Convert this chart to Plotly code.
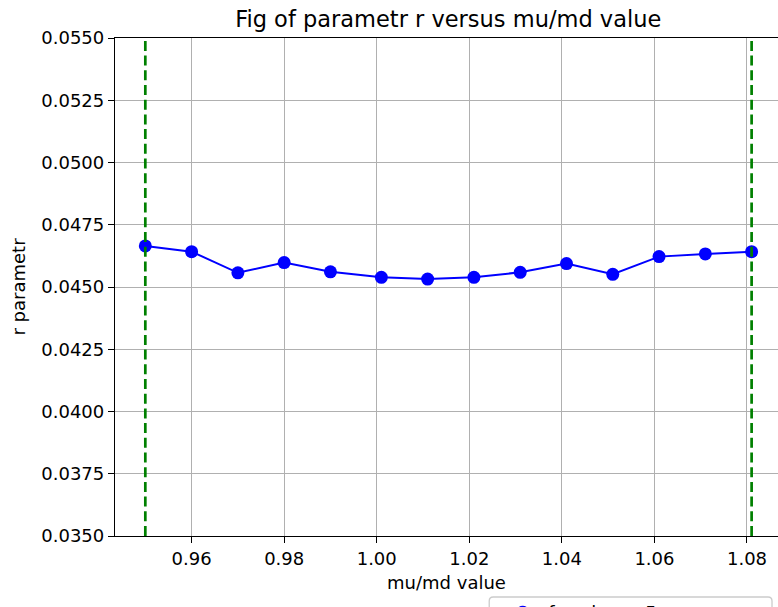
import plotly.graph_objects as go

# mu/md ratio and fitted r parameter (fs = 5)
mu_md = [0.950, 0.960, 0.970, 0.980, 0.990, 1.001, 1.011,
         1.021, 1.031, 1.041, 1.051, 1.061, 1.071, 1.081]
r_param = [0.04665, 0.04642, 0.04557, 0.04598, 0.04561, 0.04539, 0.04532,
           0.04539, 0.04559, 0.04594, 0.04551, 0.04622, 0.04633, 0.04642]

# bounds of the scanned interval
bounds = [0.950, 1.081]

x_ticks = [0.96, 0.98, 1.00, 1.02, 1.04, 1.06, 1.08]
y_ticks = [0.0350, 0.0375, 0.0400, 0.0425, 0.0450, 0.0475, 0.0500, 0.0525, 0.0550]

FONT = "DejaVu Sans"
W, H = 778, 607
ML, MT, MB = 114.5, 38, 71
PW, PH = W - ML, H - MT - MB


def px_x(p):
    """pixel column -> paper x"""
    return (p - ML) / PW


def px_y(p):
    """pixel row -> paper y"""
    return (H - MB - p) / PH


fig = go.Figure()
fig.add_trace(go.Scatter(
    x=mu_md, y=r_param, mode="lines+markers",
    name="fs value = 5",
    line=dict(color="#0000ff", width=2),
    marker=dict(color="#0000ff", size=13),
))

for b in bounds:
    fig.add_vline(x=b, line=dict(color="#008000", width=2.7, dash="10px,4.7px"), layer="above")

# legend frame with rounded corners
l, r, t, btm, rad = 489, 772, 597, 660, 4
frame = (f"M {px_x(l)},{px_y(btm)} L {px_x(l)},{px_y(t + rad)} "
         f"Q {px_x(l)},{px_y(t)} {px_x(l + rad)},{px_y(t)} "
         f"L {px_x(r - rad)},{px_y(t)} Q {px_x(r)},{px_y(t)} {px_x(r)},{px_y(t + rad)} "
         f"L {px_x(r)},{px_y(btm)} Z")
fig.add_shape(type="path", path=frame, xref="paper", yref="paper",
              line=dict(color="#cccccc", width=1.3), fillcolor="white", layer="above")

fig.update_layout(
    width=W, height=H,
    margin=dict(l=ML, r=0, t=MT, b=MB, autoexpand=False),
    plot_bgcolor="white", paper_bgcolor="white",
    font=dict(family=FONT, size=18, color="black"),
    title=dict(text="Fig of parametr r versus mu/md value",
               font=dict(family=FONT, size=22.5, color="black"),
               x=0.5026, xref="paper", xanchor="center",
               y=1 - 19 / H, yref="container", yanchor="middle"),
    xaxis=dict(
        range=[0.94345, 1.0867], tickvals=x_ticks, tickformat=".2f",
        showgrid=True, gridcolor="#b0b0b0", gridwidth=1.3,
        showline=True, linecolor="black", linewidth=1.3, mirror=True,
        ticks="outside", ticklen=6, tickwidth=1.3, tickcolor="black",
        zeroline=False,
        title=dict(text="mu/md value", standoff=8,
                   font=dict(family=FONT, size=18, color="black")),
    ),
    yaxis=dict(
        range=[0.0350, 0.0550], tickvals=y_ticks, tickformat=".4f",
        showgrid=True, gridcolor="#b0b0b0", gridwidth=1.3,
        showline=True, linecolor="black", linewidth=1.3, mirror=False,
        ticks="outside", ticklen=6, tickwidth=1.3, tickcolor="black",
        zeroline=False,
        title=dict(text="r parametr", standoff=10,
                   font=dict(family=FONT, size=18, color="black")),
    ),
    showlegend=True,
    legend=dict(
        x=px_x(497), xanchor="left",
        y=px_y(594), yanchor="top",
        itemwidth=41,
        bgcolor="rgba(0,0,0,0)", borderwidth=0,
        font=dict(family=FONT, size=18, color="black"),
    ),
)

fig.write_html("out.html")
